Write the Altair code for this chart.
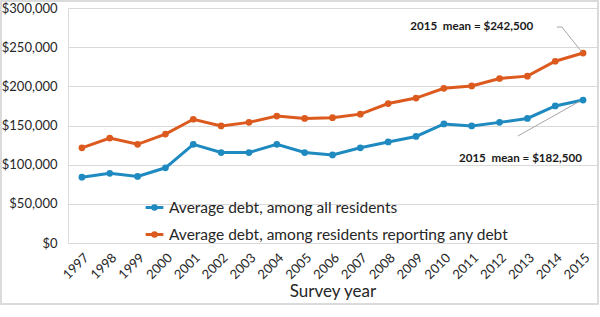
import altair as alt
import pandas as pd

years = list(range(1997, 2016))
all_residents = [84000, 89000, 85000, 96000, 126000, 115500, 115500, 126000, 115500, 112500,
                 121500, 129000, 136000, 152000, 149500, 154000, 159000, 175000, 182500]
with_debt = [121500, 134000, 126000, 139000, 158000, 149500, 154000, 162000, 159000, 160000,
             164500, 178000, 185000, 197500, 200500, 210000, 213000, 232000, 242500]
series_names = ["Average debt, among all residents",
                "Average debt, among residents reporting any debt"]
series_colors = ["#1f8ac0", "#dc5a1e"]
y_ticks = [0, 50000, 100000, 150000, 200000, 250000, 300000]

annot_text = ["2015\u00a0 mean = $242,500", "2015\u00a0 mean = $182,500"]
annot_year = [2011.0, 2012.75]
annot_value = [275700, 107500]

leader_id = [1, 1, 1, 2, 2]
leader_year = [2014.06, 2014.24, 2014.95, 2012.66, 2014.88]
leader_value = [275700, 275700, 244000, 136600, 181000]

FONT = "Lato"

rows = []
for name, vals in zip(series_names, [all_residents, with_debt]):
    for yr, v in zip(years, vals):
        rows.append({"year": yr, "value": v, "series": name})
df = pd.DataFrame(rows)
ann = pd.DataFrame({"year": annot_year, "value": annot_value, "text": annot_text})
lead = pd.DataFrame({"id": leader_id, "year": leader_year, "value": leader_value,
                     "ord": list(range(len(leader_id)))})

xscale = alt.Scale(domain=[1996.5, 2015.5], nice=False, zero=False)
yscale = alt.Scale(domain=[0, 300000], nice=False)

color = alt.Color(
    "series:N",
    scale=alt.Scale(domain=series_names, range=series_colors),
    legend=alt.Legend(
        title=None, orient="none", legendX=76, legendY=189, padding=0,
        symbolType="M-1,0H1M-0.2,0A0.2,0.2,0,1,1,0.2,0A0.2,0.2,0,1,1,-0.2,0",
        symbolSize=313, symbolStrokeWidth=3, labelFontSize=15.5, labelFont=FONT,
        labelColor="#262626", labelOffset=4, rowPadding=8, labelLimit=500,
    ),
)

x_enc = alt.X(
    "year:Q", scale=xscale, title="Survey year",
    axis=alt.Axis(values=years, format="d", labelAngle=-45, grid=False, ticks=False,
                  tickSize=0, domain=False, labelFont=FONT, labelFontSize=13,
                  labelColor="#262626", labelPadding=8, labelFlush=False, labelOverlap=False,
                  labelBound=False,
                  titleFont=FONT, titleFontSize=17, titleFontWeight="normal",
                  titleColor="#262626", titlePadding=2),
)
y_enc = alt.Y(
    "value:Q", scale=yscale, title=None,
    axis=alt.Axis(values=y_ticks, format="$,.0f", grid=True, gridColor="#d9d9d9",
                  gridWidth=1, ticks=False, tickSize=0, domain=False, labelFont=FONT,
                  labelFontSize=13, labelColor="#262626", labelPadding=11,
                  labelOverlap=False),
)

lines = alt.Chart(df).mark_line(strokeWidth=3).encode(x=x_enc, y=y_enc, color=color)
points = alt.Chart(df).mark_point(filled=True, size=45, opacity=1).encode(
    x=x_enc, y=y_enc, color=color)
leaders = alt.Chart(lead).mark_line(color="#a6a6a6", strokeWidth=1).encode(
    x=x_enc, y=y_enc, detail="id:N", order="ord:Q")
labels = alt.Chart(ann).mark_text(font=FONT, fontSize=11.6, fontWeight="bold",
                                  color="#1a1a1a").encode(
    x=x_enc, y=y_enc, text="text:N")
frame = alt.Chart(ann).mark_rect(fill=None, stroke="#d9d9d9", strokeWidth=1.5).encode(
    x=alt.value(-67), x2=alt.value(530), y=alt.value(-7), y2=alt.value(296))

chart = alt.layer(lines, points, leaders, labels, frame).properties(
    width=529, height=235,
    autosize=alt.AutoSizeParams(type="none"),
    padding={"left": 68, "top": 8, "right": 3, "bottom": 74},
).configure_view(stroke=None).configure_axis(labelOverlap=False).configure(background="white")

chart.save("out.html", embed_options={"renderer": "svg", "actions": False})
